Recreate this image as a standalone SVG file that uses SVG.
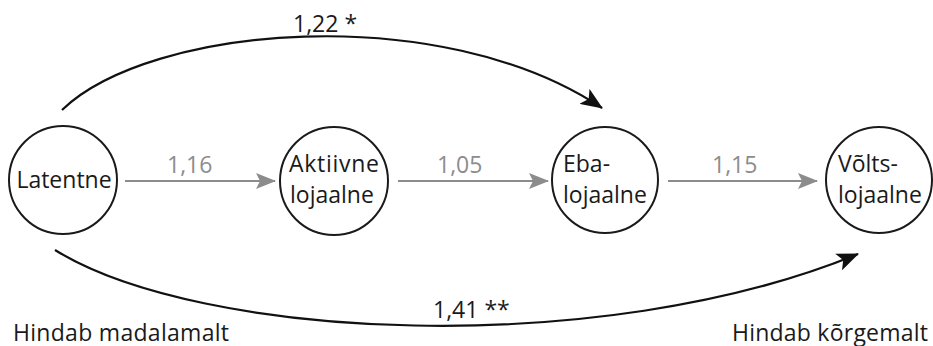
<svg xmlns="http://www.w3.org/2000/svg" width="933" height="346" viewBox="0 0 933 346">
<style>
text{font-family:"Open Sans","Noto Sans",sans-serif;font-size:23px;fill:#1a1a1a}
.node circle{fill:#fff;stroke:#1a1a1a;stroke-width:2}
.gray{stroke:#8c8c8c;stroke-width:2.2;fill:none}
.blk{stroke:#111;stroke-width:2.2;fill:none}
.gl{fill:#8c8c8c}
</style>
<defs>
<marker id="ag" viewBox="0 0 20 16" refX="19" refY="8" markerWidth="20" markerHeight="16" markerUnits="userSpaceOnUse" orient="auto">
<path d="M0,0 L20,8 L0,16 L4,8 Z" fill="#8c8c8c"/>
</marker>
<marker id="ab" viewBox="0 0 22 18" refX="21" refY="9" markerWidth="22" markerHeight="18" markerUnits="userSpaceOnUse" orient="auto">
<path d="M0,0 L22,9 L0,18 L5,9 Z" fill="#111"/>
</marker>
</defs>
<g id="connectors">
<line class="gray" x1="125" y1="181" x2="275" y2="181" marker-end="url(#ag)"/>
<line class="gray" x1="398" y1="181" x2="548" y2="181" marker-end="url(#ag)"/>
<line class="gray" x1="668" y1="181" x2="817" y2="181" marker-end="url(#ag)"/>
<path class="blk" d="M62,110 C150,25 440,0 602,108" marker-end="url(#ab)"/>
<path class="blk" d="M55,250 C200,340 600,360 858,254" marker-end="url(#ab)"/>
<text class="gl" x="167" y="173">1,16</text>
<text class="gl" x="437" y="173">1,05</text>
<text class="gl" x="712" y="173">1,15</text>
<text x="293" y="32">1,22 *</text>
<text x="433" y="318">1,41 **</text>
</g>
<g id="n1" class="node">
<circle cx="63" cy="180" r="54"/>
<text x="64" y="188" text-anchor="middle">Latentne</text>
</g>
<g id="n2" class="node">
<circle cx="334" cy="181" r="54"/>
<text x="289" y="172" textLength="90">Aktiivne</text>
<text x="290" y="203">lojaalne</text>
</g>
<g id="n3" class="node">
<circle cx="605" cy="180" r="53"/>
<text x="563" y="172">Eba-</text>
<text x="563" y="203">lojaalne</text>
</g>
<g id="n4" class="node">
<circle cx="879" cy="180" r="53"/>
<text x="838" y="172">Võlts-</text>
<text x="838" y="203">lojaalne</text>
</g>
<text x="13" y="341" textLength="216">Hindab madalamalt</text>
<text x="732" y="341" textLength="196">Hindab kõrgemalt</text>
</svg>
